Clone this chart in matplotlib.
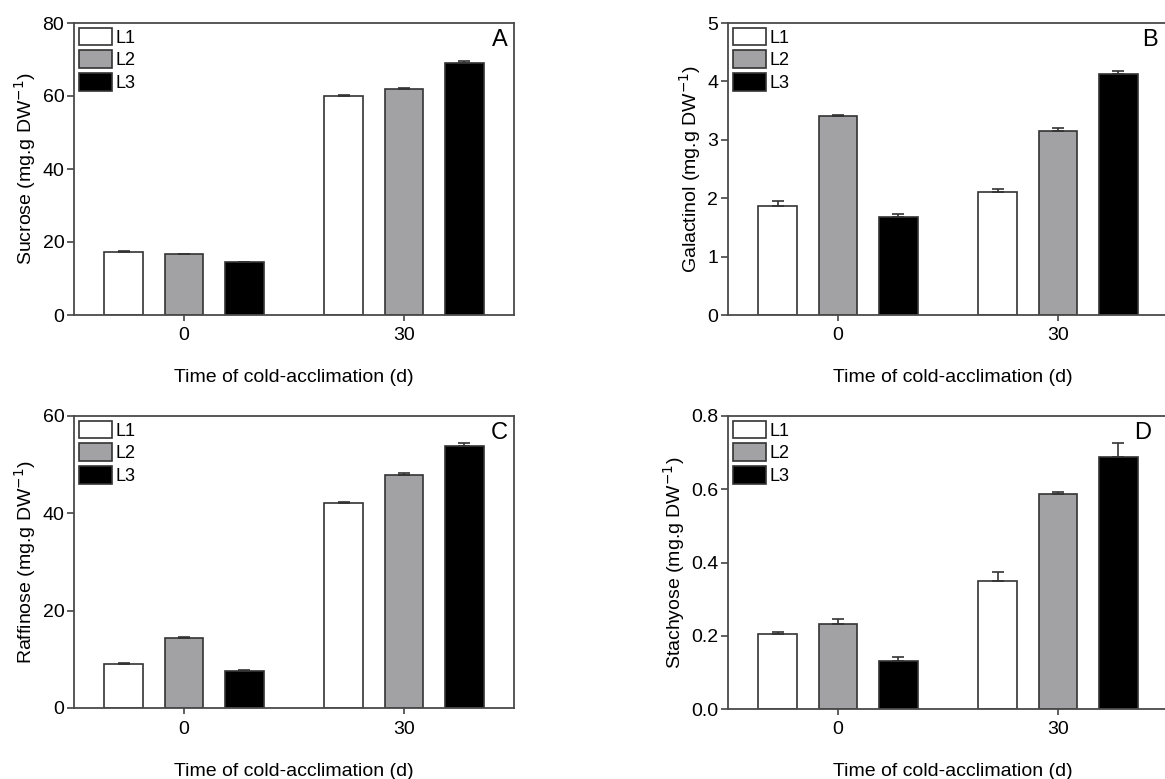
import numpy as np
import matplotlib.pyplot as plt

plt.rcParams['font.family'] = ['Liberation Sans', 'DejaVu Sans']

days = ['0', '30']
lines = ['L1', 'L2', 'L3']

# mean and SE per line, columns = day 0, day 30
sucrose = [[17.3, 60.0], [16.6, 62.0], [14.4, 69.1]]
sucrose_err = [[0.15, 0.3], [0.2, 0.2], [0.1, 0.5]]
galactinol = [[1.86, 2.10], [3.41, 3.15], [1.67, 4.13]]
galactinol_err = [[0.09, 0.05], [0.01, 0.06], [0.06, 0.05]]
raffinose = [[9.1, 42.1], [14.4, 47.8], [7.6, 53.8]]
raffinose_err = [[0.2, 0.2], [0.15, 0.5], [0.2, 0.6]]
stachyose = [[0.205, 0.349], [0.232, 0.586], [0.130, 0.689]]
stachyose_err = [[0.004, 0.024], [0.014, 0.007], [0.011, 0.036]]

fills = ['white', '#a2a2a5', 'black']

panels = [
    ('A', 'Sucrose', sucrose, sucrose_err, [0, 20, 40, 60, 80], '%d', 0.985),
    ('B', 'Galactinol', galactinol, galactinol_err, [0, 1, 2, 3, 4, 5], '%d', 0.955),
    ('C', 'Raffinose', raffinose, raffinose_err, [0, 20, 40, 60], '%d', 0.985),
    ('D', 'Stachyose', stachyose, stachyose_err, [0, 0.2, 0.4, 0.6, 0.8], '%.1f', 0.94),
]

W, H = 1165, 779
# axes boxes in pixels: left, top, bottom, width (right column runs off the page)
boxes = [(74, 23, 315, 440), (728, 23, 315, 450), (74, 416, 708, 440), (728, 416, 709, 450)]
unit = 220  # pixels between the two day groups

fig = plt.figure(figsize=(W / 100, H / 100), dpi=100)

x = np.arange(len(days))
bw = 0.177
off = 0.273

for (letter, name, vals, errs, yt, fmt, lx), (l, t, b, w) in zip(panels, boxes):
    ax = fig.add_axes([l / W, (H - b) / H, w / W, (b - t) / H])
    for i, ln in enumerate(lines):
        xi = x + (i - 1) * off
        ax.bar(xi, vals[i], bw, color=fills[i], edgecolor='#333333',
               linewidth=1.2, label=ln, zorder=2)
        ax.errorbar(xi, vals[i], yerr=[np.zeros(len(days)), errs[i]],
                    fmt='none', ecolor='#333333', elinewidth=1.2,
                    capsize=4, capthick=1.2, zorder=3)
    ax.set_xlim(-0.5, -0.5 + w / unit)
    ax.set_ylim(yt[0], yt[-1])
    ax.set_yticks(yt)
    ax.set_yticklabels([fmt % v for v in yt])
    ax.set_xticks(x)
    ax.set_xticklabels(days)
    ax.tick_params(direction='out', width=1.2, labelsize=14,
                   color='#444444', top=False, right=False)
    ax.tick_params(axis='y', length=5, pad=2)
    ax.tick_params(axis='x', length=4, pad=5)
    for s in ax.spines.values():
        s.set_color('#4a4a4a')
        s.set_linewidth(1.3)
    ax.set_ylabel(name + ' (mg.g DW$^{-1}$)', fontsize=14, labelpad=3)
    ax.set_xlabel('Time of cold-acclimation (d)', fontsize=14, labelpad=18)
    ax.text(lx, 0.978, letter, transform=ax.transAxes,
            ha='right', va='top', fontsize=17)
    ax.legend(loc='upper left', frameon=False, fontsize=13,
              handlelength=1.83, handleheight=1.15, labelspacing=0.2,
              handletextpad=0.2, borderaxespad=0.0, borderpad=0.25)

fig.savefig('out.png', dpi=100)
